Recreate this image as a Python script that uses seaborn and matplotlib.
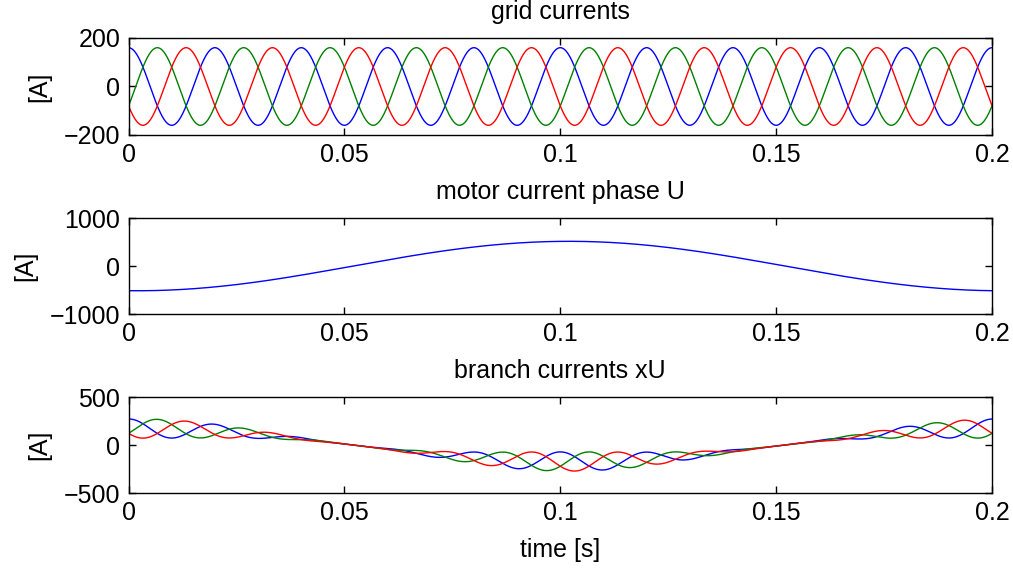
import numpy as np
import pandas as pd
import matplotlib
matplotlib.use("Agg")
import matplotlib.pyplot as plt
import seaborn as sns
from matplotlib.ticker import FuncFormatter

# values
time_span = [0.0, 0.2]          # s
n_samples = 2001

grid_amplitude = 160.0          # A, peak of the grid currents
grid_frequency = 50.0           # Hz
grid_phases_deg = [0, -120, 120]  # blue, green, red
phase_colors = ["#0000FF", "#008000", "#FF0000"]

motor_amplitude = 515.0         # A
motor_frequency = 5.0           # Hz
motor_delay = 0.002             # s, minimum just after t = 0

branch_ripple = 100.0           # A, grid-frequency ripple in the branches

titles = ["grid currents", "motor current phase U", "branch currents xU"]
y_limits = [(-200, 200), (-1000, 1000), (-500, 500)]
y_ticks = [[-200, 0, 200], [-1000, 0, 1000], [-500, 0, 500]]
x_ticks = [0, 0.05, 0.1, 0.15, 0.2]

t = np.linspace(time_span[0], time_span[1], n_samples)
motor_angle = 2 * np.pi * motor_frequency * (t - motor_delay)
i_motor = -motor_amplitude * np.cos(motor_angle)

grid_rows = []
branch_rows = []
for k, ph in enumerate(grid_phases_deg):
    shape = np.cos(2 * np.pi * grid_frequency * t + np.deg2rad(ph))
    grid_rows.append(pd.DataFrame({"t": t, "i": grid_amplitude * shape, "phase": k}))
    branch = -i_motor / 3 + branch_ripple * np.cos(motor_angle) ** 2 * shape
    branch_rows.append(pd.DataFrame({"t": t, "i": branch, "phase": k}))
df_grid = pd.concat(grid_rows, ignore_index=True)
df_branch = pd.concat(branch_rows, ignore_index=True)
df_motor = pd.DataFrame({"t": t, "i": i_motor})

sns.set_style("ticks")
plt.rcParams["font.family"] = ["Liberation Sans", "DejaVu Sans"]
plt.rcParams["font.size"] = 18
plt.rcParams["axes.linewidth"] = 1.0
plt.rcParams["text.color"] = "black"
plt.rcParams["axes.labelcolor"] = "black"
plt.rcParams["xtick.color"] = "black"
plt.rcParams["ytick.color"] = "black"

fig = plt.figure(figsize=(10.13, 5.72), dpi=100)
rects = [
    [0.1269, 0.7640, 0.8524, 0.1696],
    [0.1269, 0.4510, 0.8524, 0.1678],
    [0.1269, 0.1381, 0.8524, 0.1678],
]
axes = [fig.add_axes(r) for r in rects]

sns.lineplot(data=df_grid, x="t", y="i", hue="phase", palette=phase_colors,
             linewidth=1.0, legend=False, ax=axes[0], estimator=None, sort=False)
sns.lineplot(data=df_motor, x="t", y="i", color="#0000FF",
             linewidth=1.0, ax=axes[1], estimator=None, sort=False)
sns.lineplot(data=df_branch, x="t", y="i", hue="phase", palette=phase_colors,
             linewidth=1.0, legend=False, ax=axes[2], estimator=None, sort=False)

for ax, title, ylim, yt in zip(axes, titles, y_limits, y_ticks):
    ax.set_xlim(time_span)
    ax.set_ylim(ylim)
    ax.set_xticks(x_ticks)
    ax.set_yticks(yt)
    ax.xaxis.set_major_formatter(FuncFormatter(lambda v, p: "%g" % v))
    ax.tick_params(direction="in", length=5, width=1.0, top=True, right=True,
                   labelsize=18, pad=6, colors="black")
    for s in ax.spines.values():
        s.set_visible(True)
        s.set_color("black")
    ax.set_title(title, fontsize=18, pad=14, color="black")
    ax.set_ylabel("[A]", fontsize=18, labelpad=9, color="black")
    ax.set_xlabel("")

axes[2].set_xlabel("time [s]", fontsize=18, labelpad=9, color="black")

fig.savefig("out.png", dpi=100)
